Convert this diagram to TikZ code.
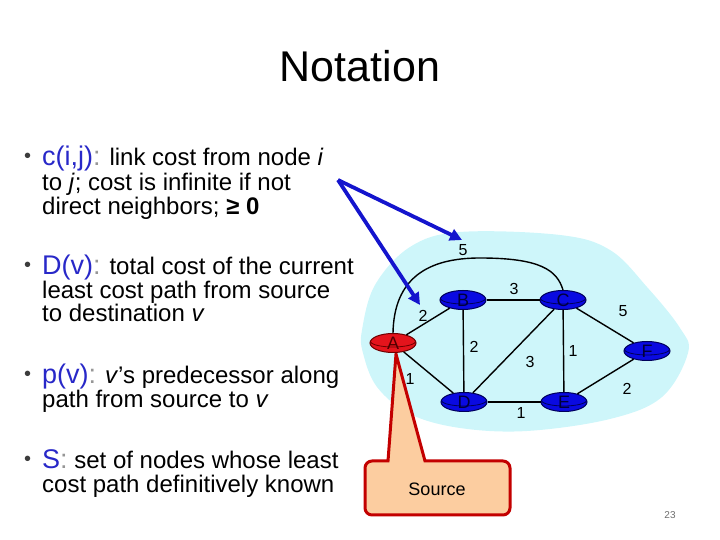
\documentclass[tikz,border=0pt]{standalone}
\usepackage{fontspec}
\setmainfont{Liberation Sans}
\usetikzlibrary{shapes.geometric,arrows.meta}
\definecolor{cloudc}{RGB}{206,246,250}
\definecolor{headc}{RGB}{40,40,200}
\definecolor{colc}{RGB}{150,150,150}
\definecolor{routerblue}{RGB}{10,10,225}
\definecolor{routerblueD}{RGB}{0,0,90}
\definecolor{routerred}{RGB}{228,20,28}
\definecolor{routerredD}{RGB}{110,0,0}
\definecolor{arrowblue}{RGB}{20,20,205}
\definecolor{calloutfill}{RGB}{252,205,160}
\definecolor{calloutdraw}{RGB}{195,0,0}
\begin{document}
\begin{tikzpicture}[x=1pt,y=1pt,
  router/.style={ellipse, minimum width=46pt, minimum height=19pt, inner sep=0pt,
    line width=1pt, font=\fontsize{18}{18}\selectfont},
  bluer/.style={router, fill=routerblue, draw=routerblueD, text={rgb,255:red,0;green,0;blue,60},
    path picture={\draw[routerblueD, line width=0.8pt] ([yshift=2pt]path picture bounding box.west) arc[start angle=180, end angle=360, x radius=23pt, y radius=6pt];}},
  redr/.style={router, fill=routerred, draw=routerredD, text={rgb,255:red,80;green,0;blue,0},
    path picture={\draw[routerredD, line width=0.8pt] ([yshift=2pt]path picture bounding box.west) arc[start angle=180, end angle=360, x radius=23pt, y radius=6pt];}},
  link/.style={line width=1.4pt, black},
  cost/.style={font=\fontsize{16}{16}\selectfont, inner sep=0pt},
  body/.style={anchor=base west, inner sep=0pt, font=\fontsize{24}{24}\selectfont},
  bul/.style={anchor=base west, inner sep=0pt, font=\fontsize{20}{20}\selectfont, text={rgb,255:red,60;green,60;blue,60}},
  pointer/.style={arrowblue, line width=3.8pt, -{Triangle[length=12pt,width=12pt]}}
]
\useasboundingbox (0,0) rectangle (720,540);

% title
\node[anchor=base, inner sep=0pt, font=\fontsize{43}{43}\selectfont] (title) at (360,458) {Notation};

% bullets
\newcommand{\hd}[1]{{\fontsize{27}{27}\selectfont\textcolor{headc}{#1}\textcolor{colc}{:}}}
\node[bul] (b1) at (24,377) {•};
\node[body] (t1a) at (42,374) {\hd{c(i,j)} link cost from node \textit{i}};
\node[body] (t1b) at (42,349) {to \textit{j}; cost is infinite if not};
\node[body] (t1c) at (42,325) {direct neighbors; \textbf{≥ 0}};
\node[bul] (b2) at (24,268) {•};
\node[body] (t2a) at (42,265) {\hd{D(v)} total cost of the current};
\node[body] (t2b) at (42,241) {least cost path from source};
\node[body] (t2c) at (42,218) {to destination \textit{v}};
\node[bul] (b3) at (24,159) {•};
\node[body] (t3a) at (42,156) {\hd{p(v)} \textit{v}’s predecessor along};
\node[body] (t3b) at (42,132) {path from source to \textit{v}};
\node[bul] (b4) at (24,74) {•};
\node[body] (t4a) at (42,71) {\hd{S} set of nodes whose least};
\node[body] (t4b) at (42,47) {cost path definitively known};

% cloud
\fill[cloudc] plot[smooth cycle, tension=0.6] coordinates {
 (362,210) (375,255) (410,293) (460,308) (560,305) (610,290) (647,253)
 (680,212) (688,187) (662,143) (610,121) (527,109) (460,112) (410,126)
 (377,153) (363,187)};

% callout
\coordinate (tip) at (396,186);
\draw[fill=calloutfill, draw=calloutdraw, line width=3pt, line join=miter]
  (tip) -- (425,79) [rounded corners=7pt] -- (510,79) -- (510,25) -- (365,25) -- (365,79) [sharp corners] -- (388,79) -- cycle;
\node[font=\fontsize{18}{18}\selectfont, inner sep=0pt] (src) at (437,51) {Source};

% routers
\node[redr]  (A) at (393,197) {A};
\node[bluer] (B) at (463,240) {B};
\node[bluer] (C) at (563,240) {C};
\node[bluer] (F) at (647,189) {F};
\node[bluer] (D) at (464,138) {D};
\node[bluer] (E) at (564,138) {E};

% links
\draw[link] (A) -- (B);
\draw[link] (A) -- (D);
\draw[link] (B) -- (C);
\draw[link] (B) -- (D);
\draw[link] (C) -- (D);
\draw[link] (C) -- (E);
\draw[link] (C) -- (F);
\draw[link] (D) -- (E);
\draw[link] (E) -- (F);
\draw[link] (A.north) .. controls (394,262) and (428,282) .. (480,282)
  .. controls (540,282) and (557,270) .. (C.north);

% costs
\node[cost] (l1) at (463,290) {5};
\node[cost] (l2) at (514,251) {3};
\node[cost] (l3) at (423,224) {2};
\node[cost] (l4) at (474,193) {2};
\node[cost] (l5) at (623,229) {5};
\node[cost] (l6) at (573,189) {1};
\node[cost] (l7) at (530,178) {3};
\node[cost] (l8) at (410,161) {1};
\node[cost] (l9) at (627,151) {2};
\node[cost] (l10) at (521,127) {1};

% blue pointers
\coordinate (src0) at (338,360);
\coordinate (to5) at (462,300);
\coordinate (to2) at (420,235);
\draw[pointer] (src0) -- (to5);
\draw[pointer] (src0) -- (to2);

% page number
\node[font=\fontsize{10}{10}\selectfont, text={rgb,255:red,110;green,110;blue,110}, inner sep=0pt] (pg) at (670,25) {23};
\end{tikzpicture}
\end{document}
